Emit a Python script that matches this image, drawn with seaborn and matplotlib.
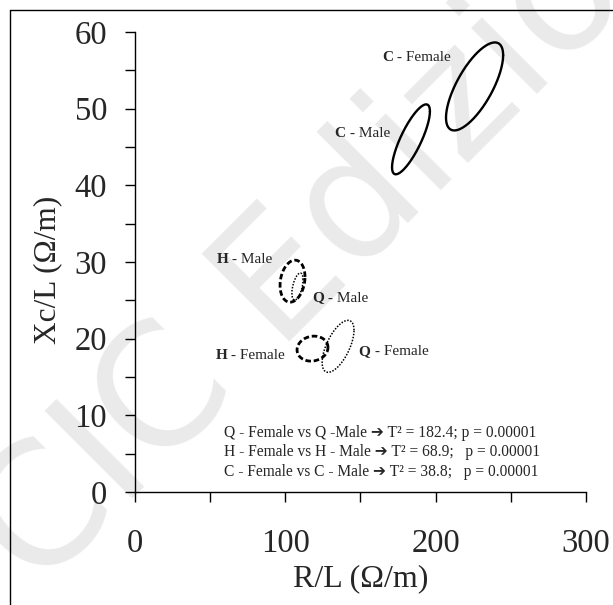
import numpy as np
import pandas as pd
import matplotlib
matplotlib.use('Agg')
import matplotlib.pyplot as plt
from matplotlib.lines import Line2D
import seaborn as sns

# Ellipses (data units): centre, half-range on x and y, correlation (tilt)
groups = ['C - Female', 'C - Male', 'H - Male', 'Q - Male', 'H - Female', 'Q - Female']
center_x = [225.9, 183.6, 104.8, 108.1, 118.1, 135.1]
center_y = [52.9, 46.0, 27.5, 26.8, 18.7, 19.0]
half_x = [19.0, 12.6, 8.3, 3.7, 10.3, 10.6]
half_y = [5.74, 4.56, 2.74, 1.76, 1.63, 3.39]
corr = [0.71, 0.80, 0.20, 0.50, 0.10, 0.62]

# Label positions (data units, left edge / vertical centre)
label_x = [164.5, 132.8, 54.3, 117.8, 53.6, 148.8]
label_y = [56.7, 46.7, 30.3, 25.3, 17.8, 18.3]

stats_lines = [
    'Q - Female vs Q -Male \u2794 T\u00b2 = 182.4; p = 0.00001',
    'H - Female vs H - Male \u2794 T\u00b2 = 68.9;   p = 0.00001',
    'C - Female vs C - Male \u2794 T\u00b2 = 38.8;   p = 0.00001',
]

x_ticks = [0, 50, 100, 150, 200, 250, 300]
x_ticklabels = ['0', '', '100', '', '200', '', '300']
y_ticks = list(range(0, 61, 5))
y_ticklabels = [str(v) if v % 10 == 0 else '' for v in y_ticks]

sns.set_style('ticks')
plt.rcParams['font.family'] = ['Liberation Serif', 'DejaVu Sans']

fig = plt.figure(figsize=(6.13, 6.05), dpi=100)
fig.patch.set_facecolor('white')

# watermark
fig.text(0.06, 0.02, 'CIC Edizioni', rotation=45, rotation_mode='anchor',
         fontsize=122, color='#eaeaea', family='DejaVu Sans',
         ha='left', va='baseline', zorder=-5)

# frame around the figure
fig.add_artist(Line2D([0.0163, 0.0163], [0.0, 0.9835], color='black', lw=1.0))
fig.add_artist(Line2D([0.0163, 1.0], [0.9835, 0.9835], color='black', lw=1.0))

ax = fig.add_axes([0.2202, 0.1868, 0.7357, 0.7603])
ax.patch.set_alpha(0)

styles = {
    'C': dict(linestyle='-', linewidth=1.7),
    'H': dict(linestyle=(0, (2.0, 1.0)), linewidth=2.0),
    'Q': dict(linestyle=(0, (1.0, 1.0)), linewidth=1.1),
}

t = np.linspace(0, 2 * np.pi, 300)
for i, g in enumerate(groups):
    phi = np.arccos(corr[i])
    df = pd.DataFrame({
        'x': center_x[i] + half_x[i] * np.cos(t),
        'y': center_y[i] + half_y[i] * np.cos(t - phi),
    })
    sns.lineplot(data=df, x='x', y='y', sort=False, estimator=None,
                 color='black', ax=ax, **styles[g[0]])

ax.set_xlim(0, 300)
ax.set_ylim(0, 60)

# labels: bold letter + normal rest
for i, g in enumerate(groups):
    letter, rest = g[0], g[1:]
    b = ax.text(label_x[i], label_y[i], letter, fontsize=11,
                fontweight='bold', ha='left', va='center')
    ax.annotate(rest, xy=(1, 0.5), xycoords=b, fontsize=11,
                ha='left', va='center')

ax.text(59.2, 8.8, '\n'.join(stats_lines), fontsize=11.2, ha='left',
        va='top', linespacing=1.33)

ax.set_xticks(x_ticks)
ax.set_xticklabels(x_ticklabels)
ax.set_yticks(y_ticks)
ax.set_yticklabels(y_ticklabels)
ax.tick_params(axis='both', labelsize=23.5, length=7, width=1,
               direction='out', color='black')
ax.tick_params(axis='x', pad=19)
ax.tick_params(axis='y', pad=13)
sns.despine(ax=ax)
for s in ['left', 'bottom']:
    ax.spines[s].set_color('black')
    ax.spines[s].set_linewidth(1.0)

ax.set_xlabel('R/L (\u03a9/m)', fontsize=23, labelpad=4)
ax.set_ylabel('Xc/L (\u03a9/m)', fontsize=22.5)
ax.yaxis.set_label_coords(-0.161, 0.483)

fig.savefig('out.png', dpi=100)
